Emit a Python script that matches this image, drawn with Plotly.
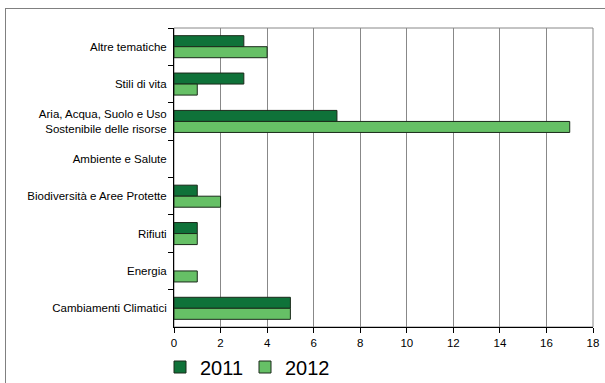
import plotly.graph_objects as go

categories = ["Altre tematiche", "Stili di vita",
              "Aria, Acqua, Suolo e Uso<br>Sostenibile delle risorse",
              "Ambiente e Salute", "Biodiversità e Aree Protette",
              "Rifiuti", "Energia", "Cambiamenti Climatici"]
values_2011 = [3, 3, 7, 0, 1, 1, 0, 5]
values_2012 = [4, 1, 17, 0, 2, 1, 1, 5]
x_ticks = [0, 2, 4, 6, 8, 10, 12, 14, 16, 18]

def edge_widths(vals):
    return [0 if v == 0 else 1 for v in vals]

fig = go.Figure()
fig.add_trace(go.Bar(y=categories, x=values_2011, name="2011", orientation="h",
                     marker=dict(color="#0f7239",
                                 line=dict(color="#1a2a1a", width=edge_widths(values_2011)))))
fig.add_trace(go.Bar(y=categories, x=values_2012, name="2012", orientation="h",
                     marker=dict(color="#66c066",
                                 line=dict(color="#1a2a1a", width=edge_widths(values_2012)))))

W, H = 605, 383
PL, PR, PT, PB = 174, 593, 28, 327  # plot area in pixels

def fx(p):
    return p / W

def fy(p):
    return (H - p) / H

fig.update_layout(
    width=W, height=H,
    margin=dict(l=0, r=0, t=0, b=0, autoexpand=False),
    paper_bgcolor="white", plot_bgcolor="white",
    font=dict(family="Liberation Sans, Arial, sans-serif", size=11.5, color="black"),
    barmode="group", bargap=0.41, bargroupgap=0,
    xaxis=dict(domain=[fx(PL), fx(PR)], range=[0, 18], tickvals=x_ticks,
               showgrid=True, gridcolor="#888888", gridwidth=1, zeroline=False,
               showline=True, linecolor="black", linewidth=1, automargin=False,
               ticks="outside", ticklen=5, tickcolor="black", fixedrange=True,
               tickfont=dict(size=11.5)),
    yaxis=dict(domain=[fy(PB), fy(PT)], categoryorder="array", categoryarray=categories,
               autorange="reversed", automargin=False,
               showgrid=False, showline=True, linecolor="black", linewidth=1,
               ticks="outside", tickson="boundaries", ticklen=5, tickcolor="black",
               ticklabelstandoff=4, fixedrange=True),
    legend=dict(orientation="h", x=fx(160), xanchor="left", y=fy(367), yanchor="middle",
                font=dict(size=20), itemwidth=30, entrywidth=40, entrywidthmode="pixels",
                bgcolor="rgba(0,0,0,0)"),
    showlegend=True,
    shapes=[
        dict(type="rect", xref="paper", yref="paper", x0=fx(PL), y0=fy(PB), x1=fx(PR), y1=fy(PT),
             line=dict(color="#888888", width=1), layer="below"),
        dict(type="line", xref="paper", yref="paper", x0=fx(5), y0=fy(8.5), x1=1.05, y1=fy(8.5),
             line=dict(color="#808080", width=1)),
        dict(type="line", xref="paper", yref="paper", x0=fx(5.5), y0=fy(8), x1=fx(5.5), y1=-0.05,
             line=dict(color="#808080", width=1)),
    ],
)

fig.write_html("out.html")
